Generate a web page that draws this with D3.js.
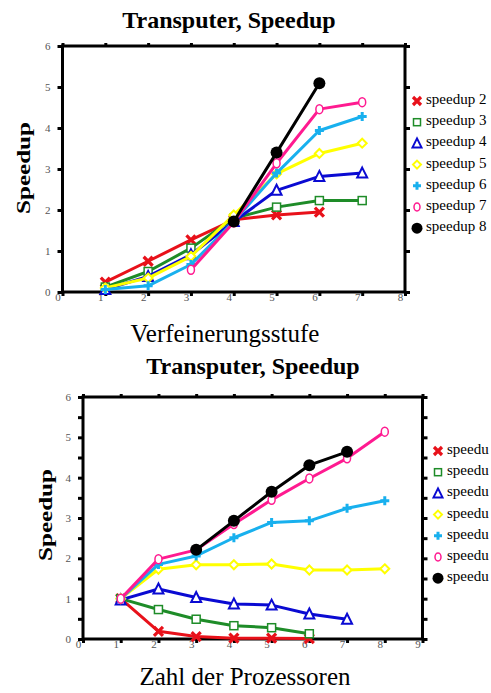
<!DOCTYPE html>
<html>
<head>
<meta charset="utf-8">
<script src="https://cdn.jsdelivr.net/npm/d3@7"></script>
<style>
  body { margin: 0; background: #fff; }
  svg { display: block; overflow: hidden; }
  text { font-family: "Liberation Serif", "DejaVu Serif", serif; }
</style>
</head>
<body>
<svg width="491" height="693"></svg>
<script>
// Daten
const seriesNames = ["speedup 2", "speedup 3", "speedup 4", "speedup 5", "speedup 6", "speedup 7", "speedup 8"];
// unten ist die Legende am Bildrand abgeschnitten
const seriesNamesCut = ["speedu", "speedu", "speedu", "speedu", "speedu", "speedu", "speedu"];
const seriesColors = ["#e8111a", "#1e8c28", "#0a0ad2", "#ffff00", "#18b0ee", "#ff1a90", "#000000"];
const seriesMarkers = ["x", "square", "triangle", "diamond", "plus", "circle", "dot"];

// Oben: Verfeinerungsstufe 1..7
const levelX = [1, 2, 3, 4, 5, 6, 7];
const top2 = [0.24, 0.75, 1.27, 1.76, 1.88, 1.95, null];
const top3 = [0.12, 0.50, 1.07, 1.80, 2.07, 2.23, 2.23];
const top4 = [0.06, 0.38, 0.91, 1.72, 2.48, 2.82, 2.90];
const top5 = [0.10, 0.34, 0.87, 1.88, 2.88, 3.38, 3.63];
const top6 = [0.06, 0.15, 0.67, 1.72, 2.90, 3.94, 4.28];
const top7 = [null, null, 0.54, 1.70, 3.14, 4.46, 4.63];
const top8 = [null, null, null, 1.72, 3.40, 5.09, null];

// Unten: Zahl der Prozessoren 1..8
const procX = [1, 2, 3, 4, 5, 6, 7, 8];
const bot2 = [1.00, 0.19, 0.06, 0.02, 0.02, 0.01, null, null];
const bot3 = [1.00, 0.73, 0.49, 0.33, 0.28, 0.13, null, null];
const bot4 = [0.97, 1.24, 1.03, 0.87, 0.84, 0.62, 0.49, null];
const bot5 = [1.00, 1.73, 1.84, 1.84, 1.86, 1.71, 1.71, 1.74];
const bot6 = [1.00, 1.85, 2.06, 2.51, 2.89, 2.93, 3.24, 3.43];
const bot7 = [1.00, 1.98, 2.21, 2.85, 3.45, 3.98, 4.48, 5.14];
const bot8 = [null, null, 2.21, 2.93, 3.65, 4.31, 4.64, null];

const yTicks = [0, 1, 2, 3, 4, 5, 6];

const svg = d3.select("svg");

// Marker zeichnen
function marker(g, type, color, s) {
  const h = s / 2;
  if (type === "x") {
    g.append("path").attr("d", `M${-h},${-h}L${h},${h}M${-h},${h}L${h},${-h}`)
      .attr("stroke", color).attr("stroke-width", 3.2).attr("fill", "none");
  } else if (type === "square") {
    g.append("rect").attr("x", -h + 0.5).attr("y", -h + 0.5).attr("width", s - 1).attr("height", s - 1)
      .attr("stroke", color).attr("stroke-width", 1.5).attr("fill", "#fff");
  } else if (type === "triangle") {
    g.append("path").attr("d", `M0,${-h - 1}L${h + 0.5},${h}L${-h - 0.5},${h}Z`)
      .attr("stroke", color).attr("stroke-width", 2).attr("fill", "#fff");
  } else if (type === "diamond") {
    g.append("path").attr("d", `M0,${-h}L${h},0L0,${h}L${-h},0Z`)
      .attr("stroke", color).attr("stroke-width", 2).attr("fill", "#fff");
  } else if (type === "plus") {
    g.append("path").attr("d", `M${-h},0L${h},0M0,${-h}L0,${h}`)
      .attr("stroke", color).attr("stroke-width", 3).attr("fill", "none");
  } else if (type === "circle") {
    g.append("ellipse").attr("rx", h - 1).attr("ry", h).attr("stroke", color)
      .attr("stroke-width", 1.5).attr("fill", "#fff");
  } else if (type === "dot") {
    g.append("circle").attr("r", h + 1.5).attr("fill", color);
  }
}

function drawChart(cfg) {
  const x = d3.scaleLinear().domain([0, cfg.xMax]).range([cfg.left, cfg.right]);
  const y = d3.scaleLinear().domain([0, 6]).range([cfg.bottom, cfg.top]);
  const g = svg.append("g");

  // Rahmen
  g.append("rect").attr("x", cfg.left).attr("y", cfg.top)
    .attr("width", cfg.right - cfg.left).attr("height", cfg.bottom - cfg.top)
    .attr("fill", "none").attr("stroke", "#000").attr("stroke-width", 3);

  const xt = d3.range(0, cfg.xMax + 1);
  const yt = cfg.yMinor ? d3.range(0, 6.01, 0.5) : yTicks;

  // Achsen
  const ax = g.append("g").attr("transform", `translate(0,${cfg.bottom})`)
    .call(d3.axisBottom(x).tickValues(xt).tickSize(4).tickFormat(d3.format("d")));
  ax.selectAll("text").attr("dx", -5).attr("dy", 2);
  const ay = g.append("g").attr("transform", `translate(${cfg.left},0)`)
    .call(d3.axisLeft(y).tickValues(yt).tickSize(5).tickPadding(7)
      .tickFormat(d => Number.isInteger(d) ? d : ""));
  const ar = g.append("g").attr("transform", `translate(${cfg.right},0)`)
    .call(d3.axisRight(y).tickValues(yt).tickSize(5).tickFormat(""));
  const at = g.append("g").attr("transform", `translate(0,${cfg.top})`)
    .call(d3.axisTop(x).tickValues(xt).tickSize(3).tickFormat(""));
  [ax, ay, ar, at].forEach(a => {
    a.select(".domain").remove();
    a.selectAll("line").attr("stroke-width", 3);
    a.selectAll("text").attr("font-family", "Liberation Serif").attr("font-size", 11)
      .attr("fill", "#555").attr("transform", null);
  });

  // Linien und Marker
  const line = d3.line().defined(d => d[1] != null).x(d => x(d[0])).y(d => y(d[1]));
  cfg.series.forEach((vals, i) => {
    const pts = cfg.xs.map((v, k) => [v, vals[k]]);
    g.append("path").datum(pts).attr("d", line).attr("fill", "none")
      .attr("stroke", seriesColors[i]).attr("stroke-width", 3).attr("stroke-linejoin", "round");
    pts.filter(d => d[1] != null).forEach(d => {
      marker(g.append("g").attr("transform", `translate(${x(d[0])},${y(d[1])})`),
        seriesMarkers[i], seriesColors[i], 9);
    });
  });

  // Titel, Achsenbeschriftung
  g.append("text").attr("x", cfg.titleX).attr("y", cfg.titleY).attr("text-anchor", "middle")
    .attr("font-size", 24).attr("font-weight", "bold").text("Transputer, Speedup");
  g.append("text").attr("x", cfg.xLabelX).attr("y", cfg.xLabelY).attr("text-anchor", "middle")
    .attr("font-size", 25).text(cfg.xLabel);
  g.append("text").attr("transform", `translate(${cfg.yLabelX},${cfg.yLabelY}) rotate(-90)`)
    .attr("text-anchor", "middle").attr("font-family", "DejaVu Sans").attr("font-weight", "bold")
    .attr("font-size", 19).attr("textLength", 92).attr("lengthAdjust", "spacingAndGlyphs")
    .text("Speedup");

  // Legende
  cfg.names.forEach((name, i) => {
    const ly = cfg.legendY + i * 21.2;
    marker(g.append("g").attr("transform", `translate(${cfg.legendX},${ly + 1})`),
      seriesMarkers[i], seriesColors[i], 8);
    g.append("text").attr("x", cfg.legendX + 9).attr("y", ly + 4)
      .attr("font-size", 15).text(name);
  });
}

drawChart({
  xs: levelX, series: [top2, top3, top4, top5, top6, top7, top8], names: seriesNames,
  xMax: 8, left: 62.5, right: 405, top: 46, bottom: 292, yMinor: false,
  titleX: 229, titleY: 28, xLabel: "Verfeinerungsstufe", xLabelX: 225, xLabelY: 342,
  yLabelX: 30, yLabelY: 168, legendX: 417, legendY: 100
});

drawChart({
  xs: procX, series: [bot2, bot3, bot4, bot5, bot6, bot7, bot8], names: seriesNamesCut,
  xMax: 9, left: 83, right: 422.5, top: 397, bottom: 639, yMinor: true,
  titleX: 253, titleY: 374, xLabel: "Zahl der Prozessoren", xLabelX: 245, xLabelY: 685,
  yLabelX: 52, yLabelY: 515, legendX: 438, legendY: 450
});
</script>
</body>
</html>
